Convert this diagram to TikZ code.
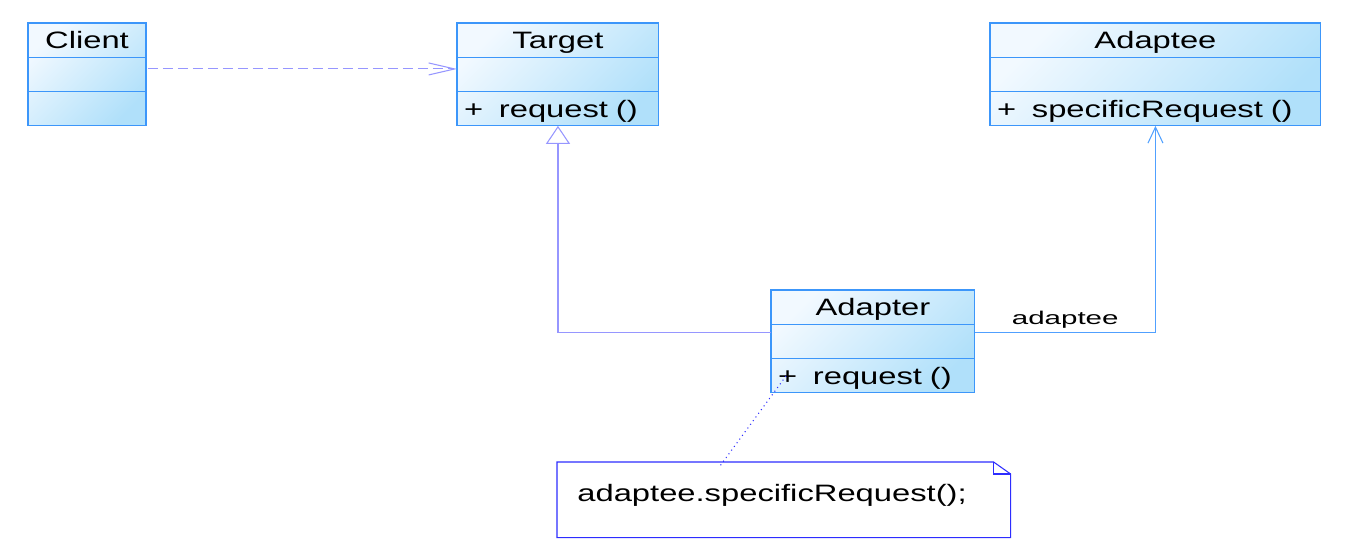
\documentclass[tikz,border=0pt]{standalone}
\usepackage{fontspec}
\setmainfont{Liberation Sans}[FakeStretch=1.38]
\newfontfamily\rolefont{Liberation Sans}[FakeStretch=1.6]
\usepackage{tikz}
\usetikzlibrary{arrows.meta,positioning,backgrounds}

\definecolor{umlborder}{RGB}{60,150,250}
\definecolor{umllight}{RGB}{242,249,255}
\definecolor{umldark}{RGB}{176,224,250}
\definecolor{deplila}{RGB}{150,150,255}
\definecolor{assocblue}{RGB}{80,160,255}
\definecolor{noteblue}{RGB}{45,45,255}

\begin{document}
\begin{tikzpicture}[x=0.02cm, y=-0.02cm,
    font=\fontsize{13.5}{16}\selectfont]
    \useasboundingbox (0,0) rectangle (1347,558);
    % Setup the styles for the class compartments
    \tikzset{class part/.style={
        draw=umlborder,
        line width=0.6pt,
        text width=#1,
        inner xsep=0.14cm,
        inner ysep=0pt,
        outer sep=0pt,
        minimum height=0.686cm,
        text height=0.34cm,
        text depth=0pt},
      class title/.style={class part=#1, align=center},
      class ops/.style={class part=#1, align=left},
      uml line/.style={line width=0.6pt}}

    % Draw the classes
    \node[class title=2.08cm, anchor=north west] at (28, 23) (client) {Client};
    \node[class part=2.08cm, below=0pt of client]        (client-attr) {};
    \node[class part=2.08cm, below=0pt of client-attr]   (client-ops)  {};

    \node[class title=3.76cm, anchor=north west] at (457, 23) (target) {Target};
    \node[class part=3.76cm, below=0pt of target]        (target-attr) {};
    \node[class ops=3.76cm, below=0pt of target-attr]    (target-ops)  {+\ \ request ()};

    \node[class title=6.34cm, anchor=north west] at (990, 23) (adaptee) {Adaptee};
    \node[class part=6.34cm, below=0pt of adaptee]       (adaptee-attr) {};
    \node[class ops=6.34cm, below=0pt of adaptee-attr]   (adaptee-ops)  {+\ \ specificRequest ()};

    \node[class title=3.80cm, anchor=north west] at (771, 290) (adapter) {Adapter};
    \node[class part=3.80cm, below=0pt of adapter]       (adapter-attr) {};
    \node[class ops=3.80cm, below=0pt of adapter-attr]   (adapter-ops)  {+\ \ request ()};

    % Shade the class boxes
    \begin{scope}[on background layer]
      \foreach \c in {client, target, adaptee, adapter}
        \shade[top color=umllight, bottom color=umldark, shading angle=45]
          (\c.north west) rectangle (\c-ops.south east);
    \end{scope}

    % Draw the note
    \node[minimum width=9.06cm, minimum height=1.5cm, inner sep=0pt,
          anchor=north west] at (557, 462) (note) {};
    \draw[noteblue, uml line, fill=white]
        (note.north west) -- ([xshift=-0.34cm]note.north east)
        -- ([yshift=-0.24cm]note.north east) -- (note.south east)
        -- (note.south west) -- cycle;
    \draw[noteblue, uml line]
        ([xshift=-0.34cm]note.north east) |- ([yshift=-0.24cm]note.north east);
    \node[anchor=base west, inner sep=0pt] at (577, 501) (note-text)
        {adaptee.specificRequest();};

    % Connect the classes
    \draw[uml line, deplila, dash pattern=on 0.2cm off 0.1cm,
          -{Straight Barb[length=0.52cm, width=0.24cm]}, shorten <=0.04cm]
        ([yshift=0.11cm]client-attr.east) -- ([yshift=0.11cm]target-attr.west);
    \draw[uml line, deplila,
          -{Triangle[open, length=0.36cm, width=0.48cm]}]
        ([yshift=0.18cm]adapter-attr.west) -| (target-ops.south);
    \draw[uml line, assocblue,
          -{Straight Barb[length=0.32cm, width=0.3cm]}]
        ([yshift=0.18cm]adapter-attr.east) -| (adaptee-ops.south)
        node[pos=0.25, above, inner sep=2pt, text=black,
             font=\rolefont\fontsize{10.5}{12}\selectfont] (role) {adaptee};

    % Link the note to the operation
    \coordinate (link-start) at (786, 376);
    \coordinate (link-end)   at (720, 466);
    \draw[noteblue, uml line, dotted] (link-start) -- (link-end);
\end{tikzpicture}
\end{document}
